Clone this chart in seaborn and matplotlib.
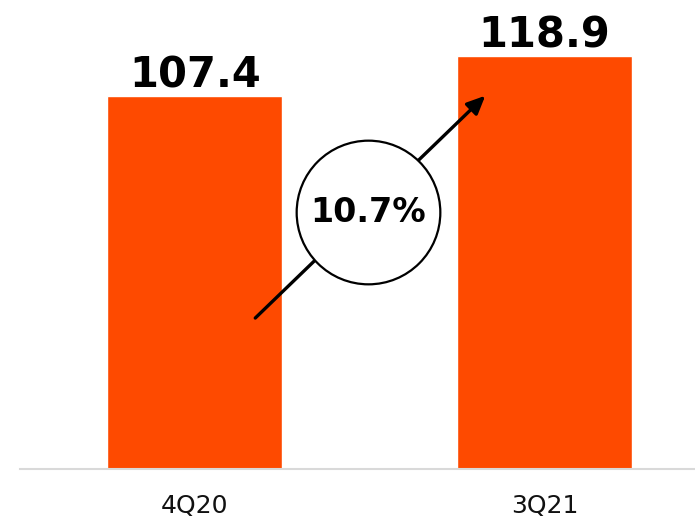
import matplotlib
matplotlib.use("Agg")
import matplotlib.pyplot as plt
import seaborn as sns
import pandas as pd

categories = ["4Q20", "3Q21"]
values = [107.4, 118.9]
value_labels = ["107.4", "118.9"]
growth_label = "10.7%"

sns.set_style("white")
plt.rcParams["font.family"] = ["DejaVu Sans"]

df = pd.DataFrame({"period": categories, "value": values})

fig = plt.figure(figsize=(6.95, 5.2), dpi=100)
ax = fig.add_axes([20 / 695, 51 / 520, 675 / 695, 469 / 520])

sns.barplot(data=df, x="period", y="value", color="#FE4A00", saturation=1,
            width=0.5, ax=ax, zorder=2)

ax.set_xlim(-0.5, 1.43)
ax.set_ylim(0, 135)

for i, (v, lab) in enumerate(zip(values, value_labels)):
    ax.annotate(lab, (i, v), xytext=(0, -0.5), textcoords="offset points",
                ha="center", va="bottom", fontsize=30, fontweight="bold",
                color="black")

# growth arrow and circle
ax.annotate("", xy=(0.836, 108.0), xytext=(0.167, 42.9),
            arrowprops=dict(arrowstyle="-|>,head_length=1.1,head_width=0.5",
                            color="black", lw=2.4), zorder=3)
ax.scatter([0.496], [73.9], s=10700, facecolor="white", edgecolor="black",
           linewidth=1.6, zorder=4)
ax.text(0.496, 73.9, growth_label, ha="center", va="center", fontsize=24,
        fontweight="bold", color="black", zorder=5)

for s in ["top", "right", "left"]:
    ax.spines[s].set_visible(False)
ax.spines["bottom"].set_color("#D9D9D9")
ax.spines["bottom"].set_linewidth(1.5)
ax.set_yticks([])
ax.set_xlabel("")
ax.set_ylabel("")
ax.tick_params(axis="x", length=0, pad=18, labelsize=18, labelcolor="#111111")

fig.savefig("out.png", dpi=100)
